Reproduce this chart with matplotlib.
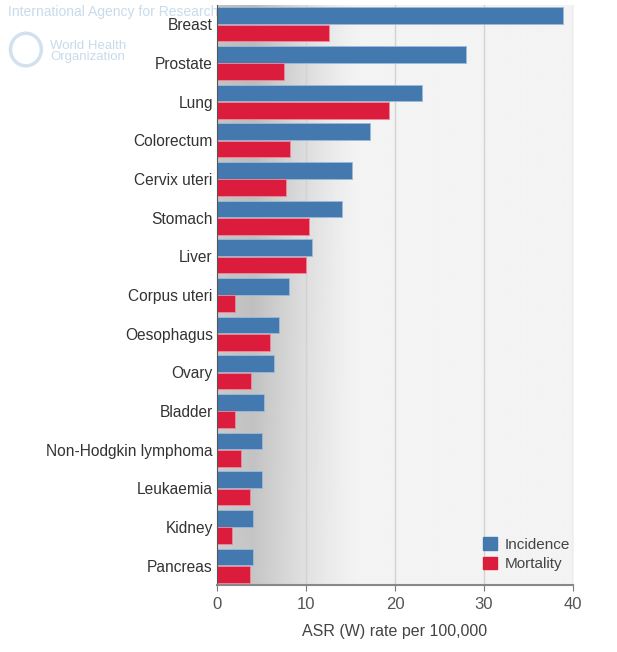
import numpy as np
import matplotlib
matplotlib.use("Agg")
import matplotlib.pyplot as plt
from matplotlib.patches import Patch, Circle

plt.rcParams["font.family"] = ["Liberation Sans", "DejaVu Sans"]

# values (ASR (W) per 100,000)
sites = ["Breast", "Prostate", "Lung", "Colorectum", "Cervix uteri", "Stomach",
         "Liver", "Corpus uteri", "Oesophagus", "Ovary", "Bladder",
         "Non-Hodgkin lymphoma", "Leukaemia", "Kidney", "Pancreas"]
incidence = [38.9, 28.0, 23.0, 17.2, 15.2, 14.0, 10.7, 8.1, 7.0, 6.4, 5.3,
             5.1, 5.1, 4.0, 4.0]
mortality = [12.6, 7.5, 19.3, 8.2, 7.8, 10.3, 10.0, 2.0, 5.9, 3.8, 2.0,
             2.7, 3.7, 1.7, 3.7]
xticks = [0, 10, 20, 30, 40]

BLUE = "#4479b0"
RED = "#dc1c3c"

fig = plt.figure(figsize=(6.17, 6.52), dpi=100)

# faint IARC / WHO watermark behind the plot
fig.text(0.013, 0.981, "International Agency for Research on Cancer",
         color="#c8dbec", fontsize=10, va="center", zorder=0)
fig.text(0.081, 0.921, "World Health\nOrganization", color="#c8dbec",
         fontsize=9.5, va="center", linespacing=0.85, zorder=0)
fig.patches.append(Circle((0.042, 0.924), 0.025, transform=fig.transFigure,
                          fill=False, ec="#d2e1ef", lw=2.5, zorder=0))

ax = fig.add_axes([0.3517, 0.1028, 0.577, 0.8895])
ax.set_zorder(1)

# shaded background: dark band near zero fading to light grey
n = len(sites)
xs = np.linspace(0, 40, 400)
ys = np.linspace(0, 1, 100)
X, Y = np.meshgrid(xs, ys)
fade = np.clip(1 - (X - 4) / 12, 0, 1) ** 1.3
fade = np.where(X < 4, 0.85 + 0.15 * X / 4, fade)
depth = 0.18 + 0.05 * Y
shade = 0.955 - depth * fade
ax.imshow(shade, cmap="gray", vmin=0, vmax=1, aspect="auto",
          extent=[0, 40, n - 0.5, -0.5], origin="lower", zorder=0)

for x in xticks[1:]:
    ax.axvline(x, color="#d2d2d2", lw=1, zorder=1)

pos = np.arange(n)
h = 0.43
ax.barh(pos - h / 2 - 0.01, incidence, height=h, color=BLUE,
        edgecolor="#9bbbd8", lw=0.6, zorder=2)
ax.barh(pos + h / 2 + 0.01, mortality, height=h, color=RED,
        edgecolor="#ee8a9c", lw=0.6, zorder=2)

ax.set_xlim(0, 40)
ax.set_ylim(n - 0.5, -0.5)
ax.set_yticks(pos)
ax.set_yticklabels(sites, fontsize=11.2, color="#333333")
ax.set_xticks(xticks)
ax.set_xticklabels([str(t) for t in xticks], fontsize=12, color="#555555")
ax.tick_params(axis="y", length=0, pad=3)
ax.tick_params(axis="x", length=4, color="#777777", pad=5)
ax.set_xlabel("ASR (W) rate per 100,000", fontsize=11.5, color="#444444",
              labelpad=8)

for s in ("top", "right"):
    ax.spines[s].set_visible(False)
ax.spines["left"].set_color("#555555")
ax.spines["bottom"].set_color("#888888")
ax.spines["bottom"].set_linewidth(1.5)

handles = [Patch(color=BLUE, label="Incidence"),
           Patch(color=RED, label="Mortality")]
leg = ax.legend(handles=handles, loc="lower right", frameon=False,
                fontsize=11, handlelength=0.9, handleheight=0.9,
                handletextpad=0.5, labelspacing=0.3,
                bbox_to_anchor=(1.03, 0.0))
for t in leg.get_texts():
    t.set_color("#444444")

fig.savefig("out.png", dpi=100)
